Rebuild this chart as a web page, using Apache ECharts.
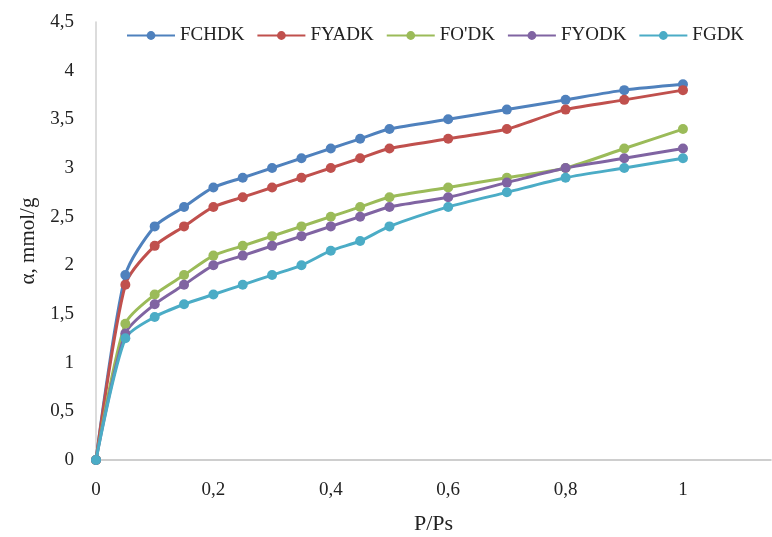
<!DOCTYPE html>
<html>
<head>
<meta charset="utf-8">
<script src="https://cdn.jsdelivr.net/npm/echarts@6/dist/echarts.min.js"></script>
<style>
  html, body { margin: 0; padding: 0; background: #fff; }
  #chart { width: 772px; height: 537px; }
</style>
</head>
<body>
<div id="chart"></div>
<script>
const pressure = [0, 0.05, 0.1, 0.15, 0.2, 0.25, 0.3, 0.35, 0.4, 0.45, 0.5, 0.6, 0.7, 0.8, 0.9, 1]
const seriesNames = ['FCHDK', 'FYADK', "FO'DK", 'FYODK', 'FGDK']
const fchdk = [0, 1.9, 2.4, 2.6, 2.8, 2.9, 3.0, 3.1, 3.2, 3.3, 3.4, 3.5, 3.6, 3.7, 3.8, 3.86]
const fyadk = [0, 1.8, 2.2, 2.4, 2.6, 2.7, 2.8, 2.9, 3.0, 3.1, 3.2, 3.3, 3.4, 3.6, 3.7, 3.8]
const fodk = [0, 1.4, 1.7, 1.9, 2.1, 2.2, 2.3, 2.4, 2.5, 2.6, 2.7, 2.8, 2.9, 3.0, 3.2, 3.4]
const fyodk = [0, 1.3, 1.6, 1.8, 2.0, 2.1, 2.2, 2.3, 2.4, 2.5, 2.6, 2.7, 2.85, 3.0, 3.1, 3.2]
const fgdk = [0, 1.25, 1.47, 1.6, 1.7, 1.8, 1.9, 2.0, 2.15, 2.25, 2.4, 2.6, 2.75, 2.9, 3.0, 3.1]
const colors = ['#4F81BD', '#C0504D', '#9BBB59', '#8064A2', '#4BACC6']

const serif = '"Liberation Serif", "DejaVu Serif", serif'
const commaFmt = (v) => String(v).replace('.', ',')

const chart = echarts.init(document.getElementById('chart'))

const makeSeries = (name, values, color) => ({
  name,
  type: 'line',
  data: pressure.map((p, i) => [p, values[i]]),
  smooth: 0.25,
  symbol: 'circle',
  symbolSize: 10,
  itemStyle: { color },
  lineStyle: { width: 3, color },
})

chart.setOption({
  animation: false,
  color: colors,
  legend: {
    data: seriesNames,
    left: 121,
    top: 21,
    itemWidth: 48,
    itemHeight: 11,
    itemGap: 12,
    textStyle: { fontFamily: serif, fontSize: 19, color: '#222' },
  },
  grid: { left: 96, right: 1, top: 22, bottom: 77, outerBoundsMode: 'none' },
  xAxis: {
    type: 'value',
    min: 0,
    max: 1.15,
    interval: 0.2,
    name: 'P/Ps',
    nameLocation: 'middle',
    nameGap: 53,
    nameTextStyle: { fontFamily: serif, fontSize: 22, color: '#222' },
    axisLine: { lineStyle: { color: '#bfbfbf', width: 1.5 } },
    axisTick: { show: false },
    splitLine: { show: false },
    axisLabel: {
      fontFamily: serif, fontSize: 19, color: '#222', margin: 21,
      showMaxLabel: false,
      formatter: commaFmt,
    },
  },
  yAxis: {
    type: 'value',
    min: 0,
    max: 4.5,
    interval: 0.5,
    name: 'α, mmol/g',
    nameLocation: 'middle',
    nameGap: 57,
    nameTextStyle: { fontFamily: serif, fontSize: 21, color: '#222' },
    axisLine: { show: true, lineStyle: { color: '#d0d0d0', width: 1.5 } },
    axisTick: { show: false },
    splitLine: { show: false },
    axisLabel: {
      fontFamily: serif, fontSize: 19, color: '#222', margin: 22,
      formatter: commaFmt,
    },
  },
  series: [
    makeSeries(seriesNames[0], fchdk, colors[0]),
    makeSeries(seriesNames[1], fyadk, colors[1]),
    makeSeries(seriesNames[2], fodk, colors[2]),
    makeSeries(seriesNames[3], fyodk, colors[3]),
    makeSeries(seriesNames[4], fgdk, colors[4]),
  ],
})
</script>
</body>
</html>
